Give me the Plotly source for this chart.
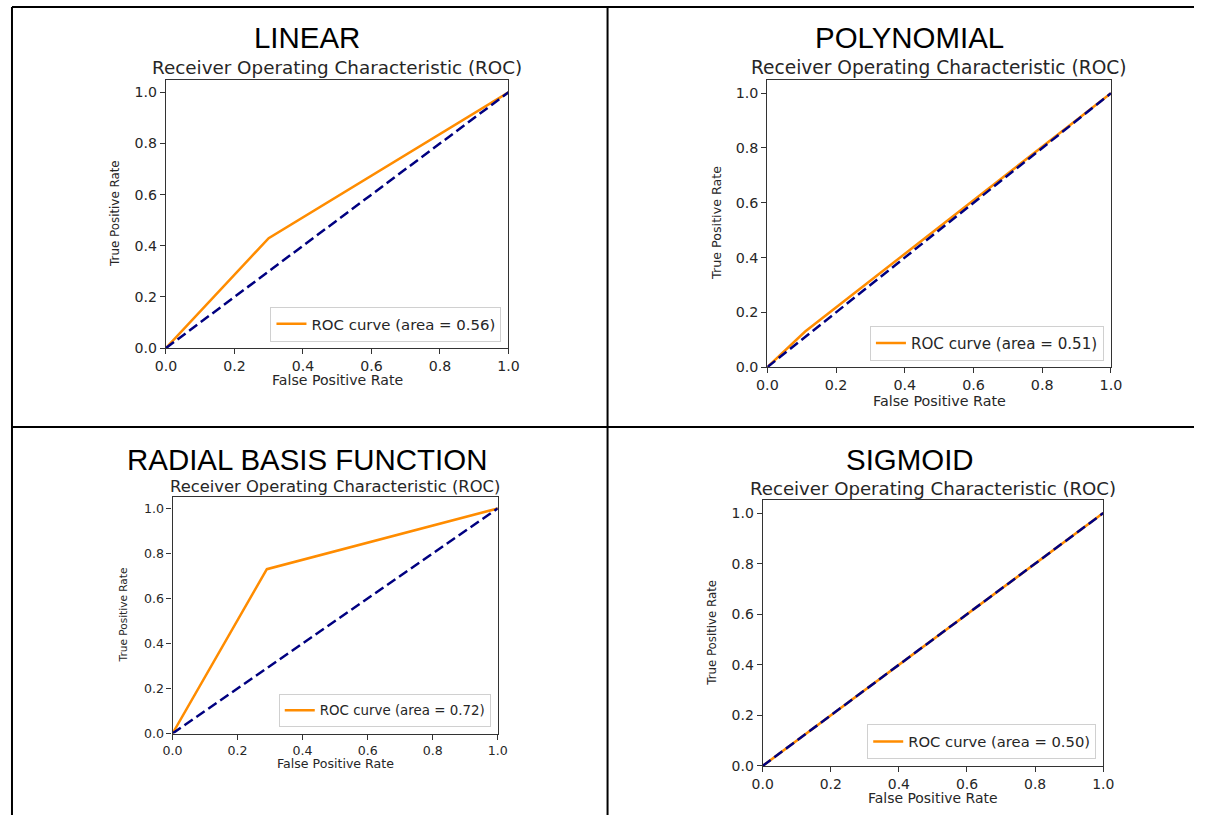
import plotly.graph_objects as go

W, H = 1205, 823

# ---------------- data ----------------
kernels = ["LINEAR", "POLYNOMIAL", "RADIAL BASIS FUNCTION", "SIGMOID"]
fpr_linear = [0.0, 0.30, 1.0]
tpr_linear = [0.0, 0.43, 1.0]
fpr_poly = [0.0, 0.11, 1.0]
tpr_poly = [0.0, 0.13, 1.0]
fpr_rbf = [0.0, 0.29, 1.0]
tpr_rbf = [0.0, 0.73, 1.0]
fpr_sig = [0.0, 1.0]
tpr_sig = [0.0, 1.0]
auc_values = [0.56, 0.51, 0.72, 0.50]
chance_x = [0.0, 1.0]
chance_y = [0.0, 1.0]
tick_vals = [0.0, 0.2, 0.4, 0.6, 0.8, 1.0]
tick_text = ["0.0", "0.2", "0.4", "0.6", "0.8", "1.0"]
plot_title = "Receiver Operating Characteristic (ROC)"
x_title = "False Positive Rate"
y_title = "True Positive Rate"

curves = [(fpr_linear, tpr_linear), (fpr_poly, tpr_poly),
          (fpr_rbf, tpr_rbf), (fpr_sig, tpr_sig)]

# ---------------- layout (target pixels in the photographed picture) -------
panels = [
    dict(box=(165.7, 508.0, 79.5, 348.0), head_x=307, head_y=37, title_y=67,
         xt_y=380, yt_x=115, fs=13.9, fy=11.7),
    dict(box=(766.7, 1110.0, 79.5, 367.0), head_x=909, head_y=37, title_y=67,
         xt_y=401, yt_x=716, fs=14.1, fy=12.5),
    dict(box=(172.3, 497.3, 497.0, 733.3), head_x=307, head_y=459.5, title_y=486,
         xt_y=763, yt_x=123, fs=12.4, fy=10.4),
    dict(box=(762.0, 1102.3, 500.3, 765.7), head_x=909, head_y=459.5, title_y=488.5,
         xt_y=798, yt_x=712, fs=13.75, fy=11.6),
]

# mapping of page pixels to photographed pixels (measured): x' = SX*x + OX, y' = SY*y
SX, OX, SY = 0.981, 10.9, 0.990
FS = 1.0 / 0.985


def px(x):
    return ((x - OX) / SX) / W


def py(y):
    return 1 - (y / SY) / H


TXT = "#262626"
fig = go.Figure()
annotations = []
layout = {}

for i, (p, (fx, ty)) in enumerate(zip(panels, curves)):
    n = i + 1
    sx = "" if n == 1 else str(n)
    l, r, t, b = p["box"]
    leg = "legend" if n == 1 else f"legend{n}"
    fs = p["fs"] * FS
    fig.add_trace(go.Scatter(
        x=fx, y=ty, mode="lines", line=dict(color="#FF8C00", width=2.5),
        name=f"ROC curve (area = {auc_values[i]:.2f})",
        xaxis=f"x{sx}", yaxis=f"y{sx}", legend=leg, showlegend=True,
        hoverinfo="skip"))
    fig.add_trace(go.Scatter(
        x=chance_x, y=chance_y, mode="lines",
        line=dict(color="#000080", width=2.5, dash="10px,4.5px"),
        xaxis=f"x{sx}", yaxis=f"y{sx}", showlegend=False, hoverinfo="skip"))

    axis_common = dict(
        showgrid=False, zeroline=False, showline=True, mirror=True,
        linecolor="#333333", linewidth=1.2, ticks="outside", ticklen=5,
        tickwidth=1.2, tickcolor="#333333", tickvals=tick_vals,
        ticktext=tick_text,
        tickfont=dict(family="DejaVu Sans", size=fs, color=TXT))
    layout[f"xaxis{sx}"] = dict(axis_common, domain=[px(l), px(r)],
                                range=[0, 1], anchor=f"y{sx}")
    layout[f"yaxis{sx}"] = dict(axis_common, domain=[py(b), py(t)],
                                range=[0, 1.05], anchor=f"x{sx}")
    layout[leg] = dict(
        x=px(r - 7), y=py(b - 6.5), xanchor="right", yanchor="bottom",
        bgcolor="rgba(255,255,255,0.85)", bordercolor="#d0d0d0", borderwidth=1,
        font=dict(family="DejaVu Sans", size=fs + 0.8, color=TXT),
        itemwidth=30, tracegroupgap=0)

    cx = (l + r) / 2
    annotations += [
        dict(text=kernels[i], x=px(p["head_x"]), y=py(p["head_y"]),
             font=dict(family="Liberation Sans", size=29 * FS, color="black")),
        dict(text=plot_title, x=px(cx), y=py(p["title_y"]),
             font=dict(family="DejaVu Sans", size=fs * 1.3, color=TXT)),
        dict(text=x_title, x=px(cx), y=py(p["xt_y"]),
             font=dict(family="DejaVu Sans", size=fs, color=TXT)),
        dict(text=y_title, x=px(p["yt_x"]), y=py((t + b) / 2), textangle=-90,
             font=dict(family="DejaVu Sans", size=p["fy"] * FS, color=TXT)),
    ]

for a in annotations:
    a.update(xref="paper", yref="paper", showarrow=False,
             xanchor="center", yanchor="middle")

# table borders (left border sits at the leftmost reachable pixel)
border = dict(color="black", width=2)
x_left = max(px(7), 1.0 / W)
shapes = [
    dict(type="line", xref="paper", yref="paper", x0=x_left, x1=1, y0=py(7), y1=py(7), line=border),
    dict(type="line", xref="paper", yref="paper", x0=x_left, x1=1, y0=py(427), y1=py(427), line=border),
    dict(type="line", xref="paper", yref="paper", x0=x_left, x1=x_left, y0=py(7), y1=0, line=border),
    dict(type="line", xref="paper", yref="paper", x0=px(607), x1=px(607), y0=py(7), y1=0, line=border),
]

fig.update_layout(
    width=W, height=H, margin=dict(l=0, r=0, t=0, b=0),
    paper_bgcolor="white", plot_bgcolor="white",
    annotations=annotations, shapes=shapes, **layout)

fig.write_html("out.html")
